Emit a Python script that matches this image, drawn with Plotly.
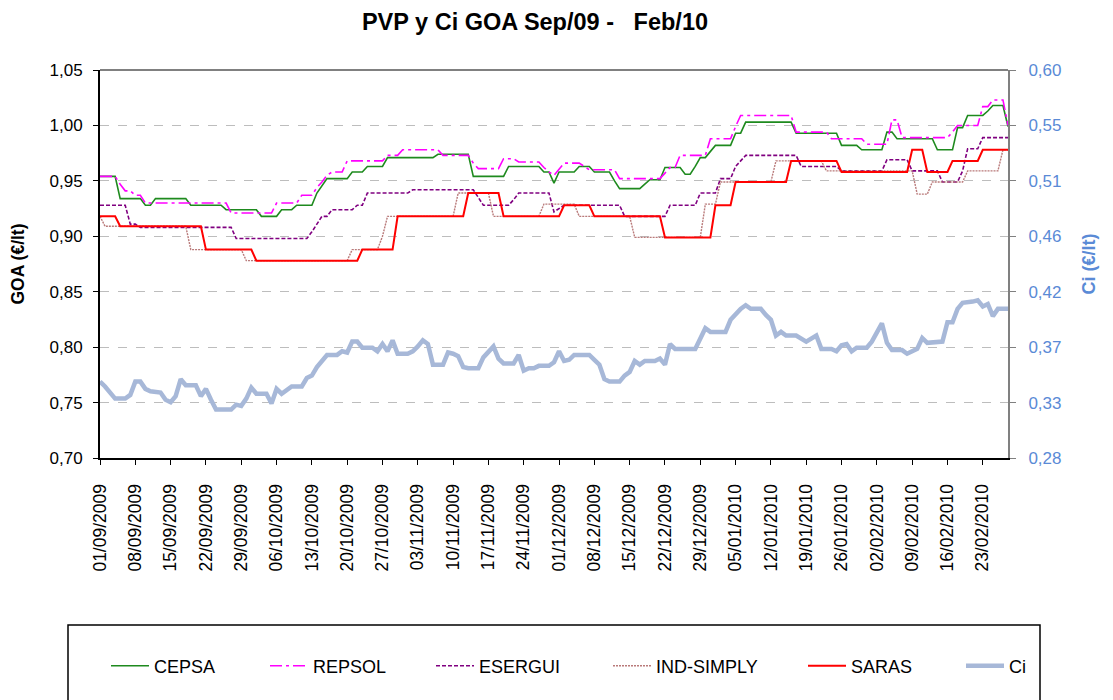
import numpy as np
import pandas as pd
import plotly.graph_objects as go

# ---------------- data ----------------
START_DATE = "2009-09-01"
END_DATE = "2010-02-28"

# Step series: day index (from START_DATE) at which a new price applies, and that price (EUR/l)
CEPSA_DAY = [0, 4, 9, 11, 18, 25, 32, 36, 39, 43, 44, 45, 50, 53, 57, 67, 74, 81, 88, 90, 91,
             95, 98, 102, 103, 108, 109, 112, 116, 118, 119, 121, 122, 126, 128, 138, 147, 151,
             156, 158, 166, 170, 172, 176, 177, 180]
CEPSA_PRICE = [0.954, 0.934, 0.928, 0.934, 0.928, 0.924, 0.918, 0.924, 0.928, 0.939, 0.946, 0.952,
               0.958, 0.963, 0.971, 0.974, 0.954, 0.963, 0.958, 0.948, 0.958, 0.963, 0.958, 0.950,
               0.943, 0.947, 0.951, 0.962, 0.956, 0.963, 0.971, 0.977, 0.982, 0.993, 1.003, 0.993,
               0.982, 0.978, 0.994, 0.988, 0.978, 0.998, 1.009, 1.013, 1.018, 0.999]

REPSOL_DAY = [0, 4, 5, 7, 9, 26, 35, 40, 43, 44, 45, 46, 49, 57, 60, 68, 74, 75, 80, 83, 88, 89,
              90, 91, 92, 96, 97, 103, 112, 113, 115, 121, 126, 127, 138, 145, 152, 157, 159, 169,
              170, 175, 177, 180]
REPSOL_PRICE = [0.954, 0.947, 0.941, 0.937, 0.930, 0.921, 0.930, 0.937, 0.944, 0.949, 0.955, 0.958,
                0.968, 0.973, 0.978, 0.973, 0.966, 0.961, 0.970, 0.967, 0.962, 0.958, 0.955, 0.960,
                0.966, 0.963, 0.960, 0.952, 0.957, 0.962, 0.973, 0.988, 0.999, 1.009, 0.994, 0.988,
                0.983, 1.005, 0.989, 0.994, 1.000, 1.017, 1.023, 1.000]

ESERGUI_DAY = [0, 6, 8, 27, 42, 43, 44, 46, 51, 53, 62, 75, 76, 82, 83, 90, 91, 92, 104, 113, 119,
               123, 126, 127, 128, 139, 147, 156, 161, 167, 171, 172, 175]
ESERGUI_PRICE = [0.928, 0.911, 0.908, 0.898, 0.904, 0.911, 0.918, 0.924, 0.928, 0.939, 0.942, 0.935,
                 0.928, 0.933, 0.939, 0.922, 0.925, 0.928, 0.918, 0.928, 0.939, 0.952, 0.963, 0.968,
                 0.973, 0.963, 0.959, 0.969, 0.959, 0.949, 0.959, 0.979, 0.989]

INDSIMPLY_DAY = [0, 1, 18, 29, 50, 56, 57, 71, 78, 88, 95, 106, 120, 123, 134, 144, 162, 165, 172, 179]
INDSIMPLY_PRICE = [0.918, 0.909, 0.888, 0.878, 0.888, 0.900, 0.918, 0.939, 0.918, 0.929, 0.918, 0.899,
                   0.929, 0.949, 0.968, 0.959, 0.938, 0.949, 0.959, 0.978]

SARAS_DAY = [0, 4, 21, 31, 52, 59, 73, 80, 92, 98, 112, 122, 126, 137, 147, 161, 164, 169, 175]
SARAS_PRICE = [0.918, 0.909, 0.888, 0.878, 0.888, 0.918, 0.939, 0.918, 0.928, 0.918, 0.899, 0.928,
               0.949, 0.968, 0.958, 0.978, 0.958, 0.968, 0.978]

# Ci (international quotation), read at its vertices: day index and value (EUR/l)
CI_DAY = [0, 1, 3, 5, 6, 7, 8, 9, 10, 12, 13, 14, 15, 16, 17, 19, 20, 21, 22, 23, 26, 27, 28, 29,
          30, 31, 33, 34, 35, 36, 38, 40, 41, 42, 43, 44, 45, 47, 48, 49, 50, 51, 52, 54, 55, 56,
          57, 58, 59, 61, 62, 63, 64, 65, 66, 68, 69, 70, 71, 72, 73, 75, 76, 78, 79, 80, 82, 83,
          84, 85, 86, 87, 89, 90, 91, 92, 93, 94, 97, 98, 99, 100, 101, 103, 104, 105, 106, 107,
          108, 110, 111, 112, 113, 114, 118, 120, 121, 124, 125, 127, 128, 129, 131, 132, 133,
          134, 135, 136, 138, 140, 142, 143, 145, 146, 147, 148, 149, 150, 152, 153, 155, 156,
          157, 159, 160, 162, 163, 164, 167, 168, 169, 170, 171, 173, 174, 175, 176, 177, 178, 180]
CI_VALUE = [0.343, 0.339, 0.329, 0.329, 0.332, 0.343, 0.343, 0.337, 0.335, 0.334, 0.328, 0.326,
            0.331, 0.345, 0.340, 0.340, 0.331, 0.337, 0.328, 0.320, 0.320, 0.324, 0.323, 0.329,
            0.338, 0.333, 0.333, 0.325, 0.337, 0.333, 0.339, 0.339, 0.346, 0.348, 0.355, 0.360,
            0.365, 0.365, 0.368, 0.367, 0.376, 0.376, 0.371, 0.371, 0.368, 0.374, 0.368, 0.377,
            0.366, 0.366, 0.368, 0.372, 0.377, 0.374, 0.357, 0.357, 0.367, 0.366, 0.364, 0.355,
            0.354, 0.354, 0.363, 0.372, 0.362, 0.358, 0.358, 0.365, 0.352, 0.354, 0.354, 0.356,
            0.356, 0.359, 0.368, 0.360, 0.361, 0.365, 0.365, 0.361, 0.357, 0.345, 0.343, 0.343,
            0.348, 0.351, 0.360, 0.357, 0.360, 0.360, 0.362, 0.357, 0.374, 0.370, 0.370, 0.387,
            0.384, 0.384, 0.394, 0.403, 0.406, 0.403, 0.403, 0.398, 0.394, 0.381, 0.384, 0.381,
            0.381, 0.376, 0.381, 0.370, 0.370, 0.368, 0.373, 0.374, 0.368, 0.371, 0.371, 0.376,
            0.391, 0.375, 0.369, 0.369, 0.366, 0.370, 0.379, 0.375, 0.376, 0.392, 0.392, 0.403,
            0.408, 0.409, 0.410, 0.405, 0.407, 0.397, 0.403, 0.403]

GOA_TICKS = [0.70, 0.75, 0.80, 0.85, 0.90, 0.95, 1.00, 1.05]
GOA_TICK_TEXT = ["0,70", "0,75", "0,80", "0,85", "0,90", "0,95", "1,00", "1,05"]
CI_RANGE = [0.28, 0.60]
CI_TICK_TEXT = ["0,28", "0,33", "0,37", "0,42", "0,46", "0,51", "0,55", "0,60"]

TITLE = "PVP y Ci GOA Sep/09 -   Feb/10"

# ---------------- build ----------------
dates = pd.date_range(START_DATE, END_DATE, freq="D")
n = len(dates)


def hold(days, prices):
    counts = np.diff(list(days) + [n])
    return np.repeat(prices, counts)


FONT = "Arial, Liberation Sans, sans-serif"
CI_COLOR = "#5A8AD6"

# the page puts the figure 8 px in from the top-left corner
OFF = 8
W, H = 1113 - OFF, 700 - OFF
L, T = 100 - OFF, 70 - OFF
R = W - (1008 - OFF)
B = H - (458 - OFF)
ph = H - T - B
pw = W - L - R


def px_x(page_x):
    return (page_x - OFF - L) / pw


def px_y(page_y):
    return (H - B - (page_y - OFF)) / ph


fig = go.Figure()

step_series = [
    ("CEPSA", CEPSA_DAY, CEPSA_PRICE, dict(color="#1E8A1E", width=1.6)),
    ("REPSOL", REPSOL_DAY, REPSOL_PRICE, dict(color="#FF00FF", width=1.6, dash="12px,4px,3px,4px")),
    ("ESERGUI", ESERGUI_DAY, ESERGUI_PRICE, dict(color="#800080", width=1.6, dash="4px,2px")),
    ("IND-SIMPLY", INDSIMPLY_DAY, INDSIMPLY_PRICE, dict(color="#B97A7A", width=1.4, dash="2px,1px")),
    ("SARAS", SARAS_DAY, SARAS_PRICE, dict(color="#FF0000", width=2)),
]
legend_ids = ["legend", "legend2", "legend3", "legend4", "legend5", "legend6"]
legend_text_x = [153, 312, 478, 655, 850, 1008]   # where each legend label starts (page px)

for (name, d, p, line), lg in zip(step_series, legend_ids):
    fig.add_trace(go.Scatter(x=dates, y=hold(d, p), mode="lines", name=name, line=line,
                             yaxis="y", legend=lg))

ci_dates = pd.Timestamp(START_DATE) + pd.to_timedelta(CI_DAY, unit="D")
fig.add_trace(go.Scatter(x=ci_dates, y=CI_VALUE, mode="lines", name="Ci",
                         line=dict(color="#A7B8D8", width=4.5), yaxis="y2",
                         legend=legend_ids[-1]))

tick_dates = dates[::7]

ITEMW = 38
legend_layout = {}
for lg, tx in zip(legend_ids, legend_text_x):
    legend_layout[lg] = dict(orientation="h", x=px_x(tx - ITEMW - 9), xanchor="left",
                             y=px_y(666), yanchor="middle",
                             font=dict(size=18, family=FONT, color="black"),
                             bgcolor="rgba(0,0,0,0)", itemwidth=ITEMW, borderwidth=0)

fig.update_layout(
    width=W, height=H,
    margin=dict(l=L, r=R, t=T, b=B, autoexpand=False),
    paper_bgcolor="white", plot_bgcolor="white",
    font=dict(family=FONT, size=17, color="black"),
    title=dict(text="<b>" + TITLE + "</b>", x=(535 - OFF) / W, xanchor="center",
               y=1 - (22 - OFF) / H, yanchor="middle",
               font=dict(size=23.5, family=FONT, color="black")),
    xaxis=dict(type="date", range=[dates[0], dates[-1]],
               tickmode="array", tickvals=tick_dates,
               ticktext=[t.strftime("%d/%m/%Y") for t in tick_dates],
               tickangle=-90, ticks="outside", ticklen=5, tickcolor="black",
               ticklabelstandoff=12,
               showline=True, linecolor="black", linewidth=2,
               showgrid=False, zeroline=False,
               tickfont=dict(size=17.5, family=FONT, color="black")),
    yaxis=dict(range=[0.70, 1.05], tickmode="array", tickvals=GOA_TICKS, ticktext=GOA_TICK_TEXT,
               ticks="outside", ticklen=5, tickcolor="black", ticklabelstandoff=7,
               showline=True, linecolor="black", linewidth=2,
               showgrid=True, gridcolor="#BDBDBD", griddash="dash", gridwidth=1,
               zeroline=False,
               tickfont=dict(size=17, family=FONT, color="black"),
               title=dict(text="<b>GOA (€/lt)</b>", standoff=27,
                          font=dict(size=17.5, family=FONT, color="black"))),
    yaxis2=dict(range=CI_RANGE, overlaying="y", side="right",
                tickmode="array", tickvals=list(np.linspace(CI_RANGE[0], CI_RANGE[1], 8)),
                ticktext=CI_TICK_TEXT,
                ticks="outside", ticklen=6, tickcolor="#808080", ticklabelstandoff=9,
                showline=True, linecolor="#808080", linewidth=2,
                showgrid=False, zeroline=False,
                tickfont=dict(size=17, family=FONT, color=CI_COLOR),
                title=dict(text="<b>Ci (€/lt)</b>", standoff=22,
                           font=dict(size=18, family=FONT, color=CI_COLOR))),
    showlegend=True,
    **legend_layout,
)

# legend frame and top border of plot area
fig.add_shape(type="rect", xref="paper", yref="paper",
              x0=px_x(68), x1=px_x(1040), y0=px_y(706), y1=px_y(625),
              line=dict(color="black", width=1.5), fillcolor="rgba(0,0,0,0)", layer="below")
fig.add_shape(type="line", xref="paper", yref="paper", x0=0, x1=1, y0=1, y1=1,
              line=dict(color="#808080", width=2))

fig.write_html("out.html")
